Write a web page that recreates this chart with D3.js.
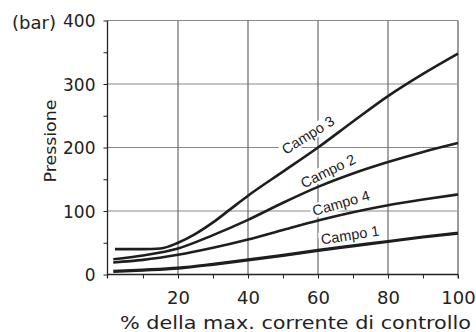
<!DOCTYPE html>
<html><head><meta charset="utf-8">
<script src="https://cdn.jsdelivr.net/npm/d3@7"></script>
<style>body{margin:0;background:#fff}svg{display:block}</style>
</head><body>
<svg id="c" width="476" height="332"></svg>
<script>
const xTicks = [20, 40, 60, 80, 100];
const yTicks = [0, 100, 200, 300, 400];
const campo3X = [2, 10, 15, 20, 25, 30, 35, 40, 50, 60, 70, 80, 90, 100];
const campo3Y = [40, 40, 41, 50, 64, 82, 103, 124, 162, 200, 241, 281, 316, 348];
const baseX = [1.5, 10, 20, 30, 40, 50, 60, 70, 80, 90, 100];
const campo2Y = [24, 30, 41, 62, 86, 113, 138, 159, 177, 193, 207];
const campo4Y = [19, 23, 31, 42, 55, 70, 85, 98, 109, 118, 126];
const campo1Y = [5, 7, 10, 16, 23, 30, 38, 45, 52, 59, 65];
const seriesNames = ["Campo 3", "Campo 2", "Campo 4", "Campo 1"];
const labelAt = [[308,135,-32],[328,171,-26],[341,203,-16],[350,235,-9]];

const svg = d3.select("#c");
const x = d3.scaleLinear().domain([0,100]).range([108,458]);
const y = d3.scaleLinear().domain([0,400]).range([274.5,20.5]);
const FONT = "DejaVu Sans, Verdana";

// grid
const g = svg.append("g");
g.selectAll(".hg").data(yTicks.filter(d=>d>0)).enter().append("line")
  .attr("x1",x(0)).attr("x2",x(100)).attr("y1",d=>y(d)).attr("y2",d=>y(d))
  .attr("stroke","#8a8a8a").attr("stroke-width",1.2);
g.selectAll(".vg").data(xTicks.filter(d=>d<100)).enter().append("line")
  .attr("x1",d=>x(d)).attr("x2",d=>x(d)).attr("y1",y(400)).attr("y2",y(0))
  .attr("stroke","#6a6a6a").attr("stroke-width",1.2);
g.append("line").attr("x1",x(100)).attr("x2",x(100)).attr("y1",y(400)).attr("y2",y(0)+4)
  .attr("stroke","#9a9a9a").attr("stroke-width",2);

// axes
const yAxis = d3.axisLeft(y).tickValues(d3.range(0,401,50)).tickSize(4).tickFormat(d=> d%100===0 ? d : "");
const ya = svg.append("g").attr("transform",`translate(${x(0)-0.5},0)`).call(yAxis);
ya.select(".domain").attr("d",`M0,${y(400)}V${y(0)+4}`).attr("stroke","#222").attr("stroke-width",1.3);
ya.selectAll(".tick line").attr("stroke","#222");
ya.selectAll(".tick text").attr("font-family",FONT).attr("font-size",17).attr("fill","#222").attr("x",-12).attr("dy","0.36em");

const xAxis = d3.axisBottom(x).tickValues(d3.range(10,101,10)).tickSize(4).tickFormat(d=> d%20===0 ? d : "");
const xa = svg.append("g").attr("transform",`translate(0,${y(0)})`).call(xAxis);
xa.select(".domain").attr("d",`M${x(0)},0H${x(100)}`).attr("stroke","#222").attr("stroke-width",1.3);
xa.selectAll(".tick line").attr("stroke","#222");
xa.selectAll(".tick text").attr("font-family",FONT).attr("font-size",18).attr("fill","#222").attr("y",29).attr("dy",0);

svg.append("text").attr("x",12).attr("y",29.3).attr("text-anchor","start")
  .attr("font-family",FONT).attr("font-size",17.5).attr("fill","#222")
  .attr("textLength",44).attr("lengthAdjust","spacingAndGlyphs").text("(bar)");
svg.append("text").attr("transform","translate(56,141) rotate(-90)").attr("text-anchor","middle")
  .attr("font-family",FONT).attr("font-size",16.5).attr("fill","#222")
  .attr("textLength",83).attr("lengthAdjust","spacingAndGlyphs").text("Pressione");
svg.append("text").attr("x",120).attr("y",329).attr("text-anchor","start")
  .attr("font-family",FONT).attr("font-size",18).attr("fill","#222")
  .attr("textLength",351).attr("lengthAdjust","spacingAndGlyphs").text("% della max. corrente di controllo");

// curves
const line = d3.line().x(d=>x(d[0])).y(d=>y(d[1])).curve(d3.curveMonotoneX);
const seriesData = [
  d3.zip(campo3X, campo3Y),
  d3.zip(baseX, campo2Y),
  d3.zip(baseX, campo4Y),
  d3.zip(baseX, campo1Y)
];
const widths = [2.6, 2.6, 2.6, 3.2];

// labels with white background
seriesNames.forEach((name,i)=>{
  const [lx,ly,rot] = labelAt[i];
  const lg = svg.append("g").attr("transform",`translate(${lx},${ly}) rotate(${rot})`);
  const t = lg.append("text").attr("text-anchor","middle").attr("dy","0.35em")
    .attr("font-family","Liberation Sans, Arial").attr("font-size",14.5).attr("fill","#222").text(name);
  const bb = t.node().getBBox();
  lg.insert("rect","text").attr("x",bb.x-2).attr("y",bb.y+1).attr("width",bb.width+4).attr("height",bb.height-2).attr("fill","#fff");
});

seriesData.forEach((d,i)=>{
  svg.append("path").datum(d).attr("d",line).attr("fill","none")
    .attr("stroke","#1e1e1e").attr("stroke-width",widths[i]).attr("stroke-linecap","butt");
});
</script>
</body></html>
